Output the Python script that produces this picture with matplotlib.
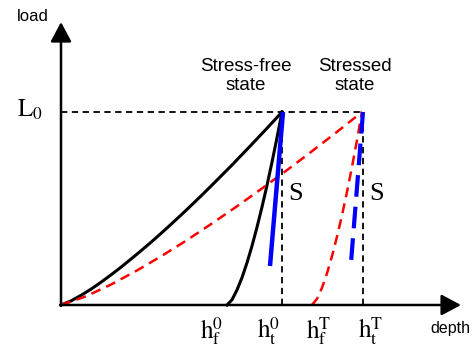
import matplotlib
matplotlib.use("Agg")
import matplotlib.pyplot as plt

# depth (arbitrary units) and normalised load
L0 = 1.0
hf0, ht0 = 166, 221
hfT, htT = 251, 302

# stress-free loading / unloading (black)
load_free_h = [0, 10, 20, 30, 40, 50, 60, 70, 80, 90, 100, 110, 120,
               130, 140, 150, 160, 170, 180, 190, 200, 210, 221]
load_free_p = [0, 0.021, 0.05, 0.082, 0.118, 0.156, 0.196, 0.238, 0.281,
               0.325, 0.371, 0.418, 0.466, 0.515, 0.565, 0.616, 0.668,
               0.72, 0.774, 0.828, 0.883, 0.938, 1.0]
unload_free_h = [166, 171, 176, 181, 186, 191, 196, 201, 206, 211, 216, 221]
unload_free_p = [0, 0.027, 0.078, 0.142, 0.219, 0.306, 0.403, 0.508,
                 0.62, 0.74, 0.867, 1.0]

# stressed loading / unloading (red dashed)
load_str_h = [0, 25, 50, 75, 100, 125, 150, 175, 200, 225, 250, 275, 301]
load_str_p = [0, 0.045, 0.106, 0.176, 0.252, 0.333, 0.419, 0.508, 0.6,
              0.695, 0.793, 0.893, 1.0]
unload_str_h = [251, 256, 261, 266, 271, 276, 281, 286, 291, 296, 301]
unload_str_p = [0, 0.032, 0.089, 0.164, 0.253, 0.354, 0.465, 0.586,
                0.716, 0.854, 1.0]

# contact stiffness S (blue)
s_free_h = [222, 209]
s_free_p = [1.0, 0.202]
s_str_h = [302, 290]
s_str_p = [1.0, 0.219]

plt.rcParams['mathtext.fontset'] = 'stix'

fig = plt.figure(figsize=(4.75, 3.52), dpi=100)
ax = fig.add_axes([0, 0, 1, 1])
ax.set_xlim(-61, 414)
ax.set_ylim(-47 / 193, 305 / 193)
ax.axis('off')

# axes with arrows
arr = dict(arrowstyle='-|>,head_length=0.6,head_width=0.32', mutation_scale=20,
           lw=1.8, color='k', shrinkA=0, shrinkB=0)
ax.annotate('', xy=(0, 1.466), xytext=(0, -0.005), arrowprops=arr)
ax.annotate('', xy=(400, 0), xytext=(-1, 0), arrowprops=arr)

# guide lines
guide = dict(color='k', lw=1.3, ls=(0, (3.5, 2.5)))
ax.plot([0, htT], [L0, L0], **guide)
ax.plot([ht0, ht0], [0, L0], **guide)
ax.plot([htT, htT], [0, L0], **guide)

ax.plot(load_free_h, load_free_p, color='k', lw=2.2, solid_joinstyle='round')
ax.plot(unload_free_h, unload_free_p, color='k', lw=2.2, solid_joinstyle='round')
ax.plot(load_str_h, load_str_p, color='red', lw=1.8, ls=(0, (4, 2.5)))
ax.plot(unload_str_h, unload_str_p, color='red', lw=1.8, ls=(0, (4, 2.5)))
ax.plot(s_free_h, s_free_p, color='blue', lw=3.2, solid_capstyle='butt')
ax.plot(s_str_h, s_str_p, color='blue', lw=3.0, ls=(0, (5.2, 2.4)))

sans = 'Liberation Sans'
serif = 'Liberation Serif'
ax.text(-28, 1.495, 'load', fontsize=12, family=sans, ha='center', va='center')
ax.text(389, -0.124, 'depth', fontsize=11.5, family=sans, ha='center', va='center')
ax.text(185, 1.187, 'Stress-free\nstate', fontsize=13.5, family=sans,
        ha='center', va='center', multialignment='center', linespacing=1.1)
ax.text(294, 1.187, 'Stressed\nstate', fontsize=13.5, family=sans,
        ha='center', va='center', multialignment='center', linespacing=1.1)

ax.text(-18, 1.013, r'$\mathrm{L}_{0}$', fontsize=18, ha='right', va='center')
ax.text(235, 0.575, 'S', fontsize=19, family=serif, ha='center', va='center')
ax.text(316, 0.575, 'S', fontsize=19, family=serif, ha='center', va='center')

labels = [r'$\mathrm{h}_{\mathrm{f}}^{0}$', r'$\mathrm{h}_{\mathrm{t}}^{0}$',
          r'$\mathrm{h}_{\mathrm{f}}^{\mathrm{T}}$', r'$\mathrm{h}_{\mathrm{t}}^{\mathrm{T}}$']
label_x = [151, 208, 258, 310]
for lx, lab in zip(label_x, labels):
    ax.text(lx, -0.055, lab, fontsize=18, ha='center', va='top')

fig.savefig('out.png', dpi=100)
